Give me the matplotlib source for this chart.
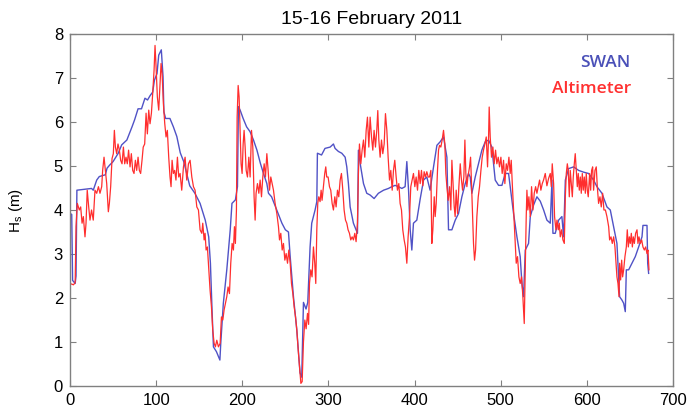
import matplotlib
matplotlib.use("Agg")
import matplotlib.pyplot as plt

title = "15-16 February 2011"
ylabel = r"$\mathregular{H_s}$ (m)"
xticks = [0, 100, 200, 300, 400, 500, 600, 700]
yticks = [0, 1, 2, 3, 4, 5, 6, 7, 8]

swan_x = [0, 2, 3, 6, 7, 8, 25, 27, 31, 34, 41, 43, 46, 50, 56, 60, 66, 72, 75, 79, 83, 87, 90, 93, 96, 98,
          101, 103, 106, 108, 109, 111, 116, 120, 124, 128, 132, 136, 139, 145, 151, 157, 161, 163, 164.6,
          166.5, 170, 174, 175, 178, 182, 186, 188, 192, 194.4, 195.5, 197.5, 201, 205, 209, 213, 217, 221,
          224.6, 228.5, 230.4, 234, 240, 246, 250, 253.6, 255.6, 259.4, 263.3, 267, 269, 271, 274, 276,
          278.7, 280.6, 284.5, 286.5, 287.2, 292, 296, 302, 305.8, 307.7, 311.6, 315.5, 319.4, 321.3, 323.2,
          325.2, 329, 332, 333.7, 334.8, 336.8, 340.7, 344.5, 348.4, 353, 358, 364, 369.7, 373.6, 377.4,
          381.3, 385.2, 389, 391, 393, 394.9, 396.8, 398.7, 402.6, 406.5, 410.4, 414.2, 418, 422, 425.9,
          429.7, 433.6, 437.5, 439.4, 443.3, 447.2, 451, 454.9, 458.8, 462.6, 464.6, 466.5, 470.4, 474.3,
          478.1, 482, 485.9, 489.7, 493.6, 497.5, 501.4, 505.2, 509.1, 511, 514.9, 518.8, 522.6, 524.6,
          526.5, 528.5, 532.3, 534.3, 538.1, 542, 545.9, 549.8, 553.6, 557.5, 559.5, 560.6, 563.3, 567.2,
          571, 573, 575, 578.8, 584.6, 590.4, 596.2, 602, 607.8, 611.7, 617.5, 623.3, 627.2, 631, 634.9,
          638, 640.8, 642.7, 644.6, 645.8, 648.5, 652.4, 656.2, 660.1, 664, 665.1, 669.8, 670.6, 671.7]
swan_hs = [3.92, 3.9, 2.4, 2.33, 2.5, 4.45, 4.49, 4.45, 4.68, 4.76, 4.8, 4.95, 5.02, 5.1, 5.29, 5.48, 5.59,
           5.89, 6.05, 6.3, 6.3, 6.54, 6.5, 6.6, 6.68, 6.95, 7.1, 7.52, 7.64, 7.03, 6.23, 6.08, 6.08, 5.89,
           5.67, 5.3, 5.1, 4.78, 4.55, 4.38, 4.15, 3.77, 3.39, 2.79, 1.88, 0.89, 0.78, 0.59, 0.97, 1.88, 2.64,
           3.55, 4.15, 4.23, 4.53, 6.35, 6.27, 6.08, 5.89, 5.78, 5.59, 5.36, 5.06, 4.83, 4.6, 4.38, 4.3, 4.0,
           3.7, 3.55, 3.5, 2.94, 2.03, 1.27, 0.3, 0.2, 1.9, 1.75, 1.9, 3.16, 3.7, 4.0, 4.19, 5.29, 5.25, 5.4,
           5.43, 5.5, 5.4, 5.33, 5.29, 5.2, 4.98, 4.6, 4.07, 3.7, 3.55, 3.47, 5.36, 5.06, 4.6, 4.38, 4.34,
           4.26, 4.38, 4.45, 4.49, 4.53, 4.56, 4.53, 4.49, 4.53, 5.1, 4.45, 3.55, 3.09, 3.7, 3.77, 4.25, 4.68,
           4.75, 4.45, 4.98, 5.47, 5.55, 5.66, 5.2, 3.55, 3.55, 3.77, 3.92, 4.3, 4.6, 4.83, 4.75, 4.38, 4.75,
           5.06, 5.36, 5.55, 5.59, 5.43, 4.68, 4.56, 4.56, 4.83, 4.83, 4.53, 3.92, 3.39, 2.94, 2.33, 2.03,
           3.09, 3.24, 3.85, 4.11, 4.3, 4.2, 4.0, 3.77, 3.7, 4.68, 3.47, 3.47, 3.77, 3.85, 3.39, 4.68, 4.94,
           4.98, 4.9, 4.86, 4.83, 4.68, 4.53, 4.38, 4.07, 4.0, 3.62, 3.24, 2.03, 1.95, 1.88, 1.69, 2.64, 2.64,
           2.79, 2.94, 3.16, 3.39, 3.65, 3.65, 2.79, 2.56]

alt_x = [0, 4, 6, 7, 8.5, 10.8, 12.4, 14, 15.5, 17.4, 18.6, 20, 21.7, 23.2, 25, 27, 29, 31, 33, 34.8, 36.8,
         37.9, 39.5, 41, 42.6, 44.5, 45.7, 47.2, 48.8, 50.3, 51.5, 52.7, 54.2, 55.7, 57.3, 58.8, 60.4, 62,
         63.5, 65, 66.5, 68, 69.7, 71.2, 72.8, 74.3, 75.9, 77.4, 79, 80.5, 82, 83.6, 85, 86.7, 88.3, 89.8,
         91.4, 92.9, 94.5, 96, 97.6, 98.7, 99.9, 101.4, 103, 104.5, 105.7, 106.9, 108.4, 110, 111.5, 113,
         114.6, 116.1, 117.3, 118.5, 120, 121.5, 123, 124.7, 126.2, 127.8, 129.7, 131.7, 133.6, 135.5,
         137.5, 139.4, 141.4, 143.3, 145.2, 147.2, 149.1, 151, 153, 154.1, 155.7, 156.8, 158, 159.5, 161.1,
         162.6, 164.2, 165.7, 167.3, 168.8, 170.4, 172.3, 174.3, 175.8, 177.4, 178.9, 180.5, 182, 183.5,
         185.1, 186.6, 188.2, 189.7, 190.9, 192, 193.2, 194, 195.2, 196.3, 197.5, 198.6, 199.8, 201, 202.1,
         203.3, 204.5, 206, 207.6, 209.1, 210.7, 212.2, 213.7, 214.9, 216, 217.6, 219.2, 220.7, 222.3,
         223.8, 225.4, 226.9, 228.5, 230, 231.6, 233.1, 234.7, 236.2, 238.1, 240.1, 242, 243.2, 244.7,
         246.3, 247.8, 249.4, 250.9, 252.5, 254, 255.6, 257.1, 258.7, 260.2, 261.8, 263.3, 264.9, 266.4,
         268, 269.5, 271, 272.6, 274.1, 275.7, 277, 278, 279.5, 281, 282.6, 284.1, 285.3, 286.5, 287.6,
         288.8, 290.3, 291.5, 292.6, 294.2, 295.7, 296.9, 298, 299.6, 301.2, 302.7, 304.3, 305.8, 307.4,
         308.9, 310.5, 312, 313.6, 315.1, 316.7, 318.2, 319.8, 321.3, 322.8, 324.4, 325.9, 327.5, 329,
         330.6, 332.1, 333.7, 334.8, 336, 337.6, 339.1, 340.7, 342.2, 343.8, 345.3, 346.9, 348.4, 350,
         351.5, 353, 354.6, 356.1, 357.3, 358.5, 360, 361.6, 363.1, 364.7, 366.2, 367.8, 369.3, 370.9,
         372.4, 374, 375.5, 377, 378.6, 380.1, 381.7, 383.2, 384.8, 386.3, 387.9, 389.4, 391, 392.5, 394.1,
         395.6, 397.2, 398.7, 400.3, 401.8, 403.4, 404.9, 406.5, 408, 409.6, 411.1, 412.7, 414.2, 415.8,
         417.3, 418.9, 420, 421.2, 422.8, 423.9, 425.1, 426.6, 427.8, 429, 430.5, 432, 433.6, 435.1, 436.3,
         437.5, 439, 440.6, 442.1, 443.3, 444.4, 446, 447.1, 448.3, 449.9, 451.4, 453, 454.1, 455.7, 457.2,
         458.4, 459.5, 460.7, 461.9, 463.8, 465, 466.1, 467.3, 468.4, 469.6, 470.8, 472.3, 473.9, 475.4,
         477, 478.5, 480, 481.6, 483.2, 484.7, 485.9, 486.6, 487.8, 489.3, 490.9, 492.4, 494, 495.5, 497.1,
         498.6, 500.2, 501.7, 503.3, 504.8, 506.4, 507.9, 509.5, 511, 512.2, 513.4, 514.9, 516.5, 518,
         519.5, 521.1, 522.6, 524.2, 525.7, 527.3, 528.4, 529.6, 530.4, 531.5, 532.7, 534.3, 535.8, 537.4,
         538.9, 540.5, 542, 543.5, 545.1, 546.6, 548.2, 549.7, 551.7, 553.6, 555.6, 557.5, 558.7, 559.8,
         561.4, 562.5, 564.1, 565.3, 566.8, 568, 569.1, 570.7, 572.2, 573.8, 575, 576.1, 577.3, 578.4,
         579.6, 580.7, 581.9, 583.1, 584.2, 585.4, 586.5, 587.7, 588.9, 590, 591.2, 592.4, 593.5, 594.7,
         595.8, 597, 598.2, 599.3, 600.5, 601.6, 603.2, 604.4, 605.5, 606.7, 607.8, 609.4, 610.9, 612.1,
         613.6, 615.2, 616.7, 618.3, 619.8, 621.5, 623.3, 625.3, 626.4, 628, 629.5, 631.1, 632.6, 633.8,
         634.9, 636.1, 637.3, 638, 639.2, 640.4, 641.5, 642.7, 644.2, 645.8, 646.9, 648.1, 649.3, 650.4,
         651.6, 652.8, 653.9, 655.1, 656.6, 658.2, 659.3, 660.5, 662, 663.6, 665.1, 666.7, 668.2, 669.8,
         670.9, 672.1]
alt_hs = [2.33, 2.3, 2.35, 3.62, 4.15, 4.0, 4.07, 3.7, 3.85, 3.39, 3.7, 4.45, 4.07, 3.77, 4.0, 3.77, 4.45,
          4.38, 4.53, 4.38, 4.53, 4.9, 5.2, 4.9, 4.6, 3.96, 4.15, 4.53, 5.17, 5.28, 5.81, 5.43, 5.28, 5.5,
          5.36, 5.13, 5.05, 5.43, 5.05, 5.2, 5.05, 5.36, 4.98, 5.28, 4.9, 4.83, 5.13, 4.9, 5.2, 4.9, 4.83,
          5.13, 5.43, 5.5, 6.2, 5.73, 6.27, 5.96, 6.2, 6.65, 7.18, 7.74, 7.26, 6.57, 6.27, 6.87, 7.33, 7.1,
          6.42, 5.96, 5.66, 5.81, 5.2, 4.75, 4.53, 5.13, 4.83, 4.9, 4.68, 5.2, 4.75, 4.83, 4.45, 4.98, 5.2,
          4.68, 5.05, 5.13, 4.75, 4.53, 4.45, 4.07, 4.0, 3.55, 3.47, 3.7, 3.32, 3.47, 3.09, 3.16, 2.64, 2.18,
          1.8, 1.27, 0.97, 0.89, 1.04, 0.89, 0.97, 1.57, 1.5, 1.73, 1.88, 2.03, 2.25, 2.1, 2.79, 3.24, 3.09,
          3.62, 3.24, 4.0, 6.11, 6.83, 6.57, 5.81, 5.05, 4.83, 5.5, 5.81, 5.43, 4.9, 4.75, 5.2, 4.75, 5.81,
          5.43, 4.3, 3.77, 4.38, 4.6, 4.38, 4.68, 4.3, 4.75, 5.05, 4.75, 5.28, 4.9, 4.45, 4.75, 4.6, 4.45,
          4.15, 3.92, 3.62, 3.32, 3.47, 3.09, 3.24, 2.86, 3.01, 2.79, 3.09, 2.79, 2.33, 2.1, 1.8, 1.57, 1.27,
          0.82, 0.44, 0.06, 0.1, 1.0, 1.5, 1.3, 1.65, 1.4, 2.33, 2.64, 2.48, 3.16, 2.79, 2.33, 3.55, 4.15,
          4.3, 4.19, 4.45, 4.22, 4.53, 4.83, 4.98, 4.75, 4.75, 4.53, 4.45, 4.15, 4.0, 4.3, 4.07, 4.45, 4.3,
          4.68, 4.83, 4.45, 4.0, 3.77, 3.7, 3.55, 3.47, 3.32, 3.39, 3.32, 3.47, 3.28, 3.7, 4.83, 5.5, 5.05,
          5.36, 5.59, 5.2, 5.81, 6.11, 5.43, 6.11, 5.66, 5.36, 5.81, 5.43, 5.81, 6.26, 5.59, 5.2, 5.59, 5.28,
          5.5, 6.19, 5.81, 5.2, 4.68, 4.9, 4.45, 4.9, 5.13, 4.75, 4.45, 4.6, 4.15, 4.0, 3.55, 3.32, 3.16,
          2.79, 3.39, 3.85, 4.53, 4.68, 4.83, 4.53, 4.75, 4.45, 4.9, 4.6, 4.9, 4.55, 4.87, 4.75, 4.87, 4.75,
          4.75, 4.9, 3.24, 3.55, 4.3, 3.85, 4.15, 4.9, 5.36, 5.47, 5.43, 5.59, 5.81, 5.5, 4.83, 4.53, 4.22,
          4.53, 4.0, 5.13, 4.68, 4.07, 3.85, 4.45, 3.92, 4.53, 5.05, 4.75, 4.45, 4.75, 5.59, 4.83, 4.53,
          4.75, 4.98, 5.2, 4.6, 3.85, 3.24, 2.86, 3.09, 3.85, 4.3, 4.53, 4.9, 5.2, 5.36, 5.5, 5.66, 4.98,
          5.66, 6.34, 5.66, 5.2, 5.43, 5.05, 5.36, 5.05, 5.2, 4.98, 5.2, 4.83, 5.13, 4.6, 5.05, 4.9, 5.2,
          4.83, 5.13, 4.6, 4.0, 3.39, 2.79, 2.94, 2.48, 2.33, 2.48, 2.03, 1.42, 2.64, 3.85, 4.45, 4.0, 4.3,
          3.85, 4.53, 4.0, 4.38, 4.53, 4.38, 4.53, 4.68, 4.45, 4.6, 4.68, 4.83, 4.55, 4.72, 4.83, 4.53, 5.05,
          4.6, 3.85, 3.55, 3.77, 3.55, 3.7, 3.39, 3.55, 3.32, 3.24, 4.3, 4.83, 5.05, 4.9, 4.3, 4.9, 4.6, 4.3,
          4.75, 5.05, 5.28, 4.9, 4.53, 4.83, 4.45, 4.75, 4.38, 4.83, 4.45, 4.75, 4.38, 4.83, 4.45, 4.3, 4.83,
          4.45, 4.9, 4.98, 4.45, 4.9, 4.98, 4.53, 4.15, 4.3, 4.07, 4.38, 4.0, 4.0, 3.85, 3.62, 3.32, 3.39,
          3.24, 3.39, 3.16, 2.79, 2.48, 2.33, 2.03, 2.79, 2.41, 2.86, 2.48, 2.64, 2.94, 3.16, 3.55, 3.16,
          3.39, 3.24, 3.47, 3.16, 3.39, 3.24, 3.47, 3.55, 3.24, 3.39, 3.24, 3.32, 3.16, 3.09, 3.16, 3.01,
          3.09, 2.64]

series_names = ["SWAN", "Altimeter"]
swan_color = "#5052c6"
alt_color = "#ff2e2e"

plt.rcParams['font.family'] = ['Liberation Sans', 'DejaVu Sans']
fig = plt.figure(figsize=(6.89, 4.12), dpi=100)
ax = fig.add_axes([0.1016, 0.0631, 0.8752, 0.8544])

ax.plot(swan_x, swan_hs, color=swan_color, lw=1.0)
ax.plot(alt_x, alt_hs, color=alt_color, lw=0.9)

ax.set_xlim(0, 700)
ax.set_ylim(0, 8)
ax.set_xticks(xticks)
ax.set_yticks(yticks)
ax.tick_params(direction='in', top=True, right=True, length=4, width=0.8,
               color='#808080', labelsize=12, pad=5)
for s in ax.spines.values():
    s.set_color('#808080')
    s.set_linewidth(1.0)

ax.set_title(title, fontsize=14, pad=7)
ax.set_ylabel(ylabel, fontsize=11)
ax.yaxis.set_label_coords(-0.074, 0.5)

ax.text(0.930, 0.918, series_names[0], transform=ax.transAxes, ha='right', va='center',
        color='#4a50b8', fontsize=12.5, fontweight='semibold', family=['Open Sans', 'DejaVu Sans'])
ax.text(0.930, 0.844, series_names[1], transform=ax.transAxes, ha='right', va='center',
        color='#ff3030', fontsize=12.5, fontweight='semibold', family=['Open Sans', 'DejaVu Sans'])

fig.savefig("out.png", dpi=100)
